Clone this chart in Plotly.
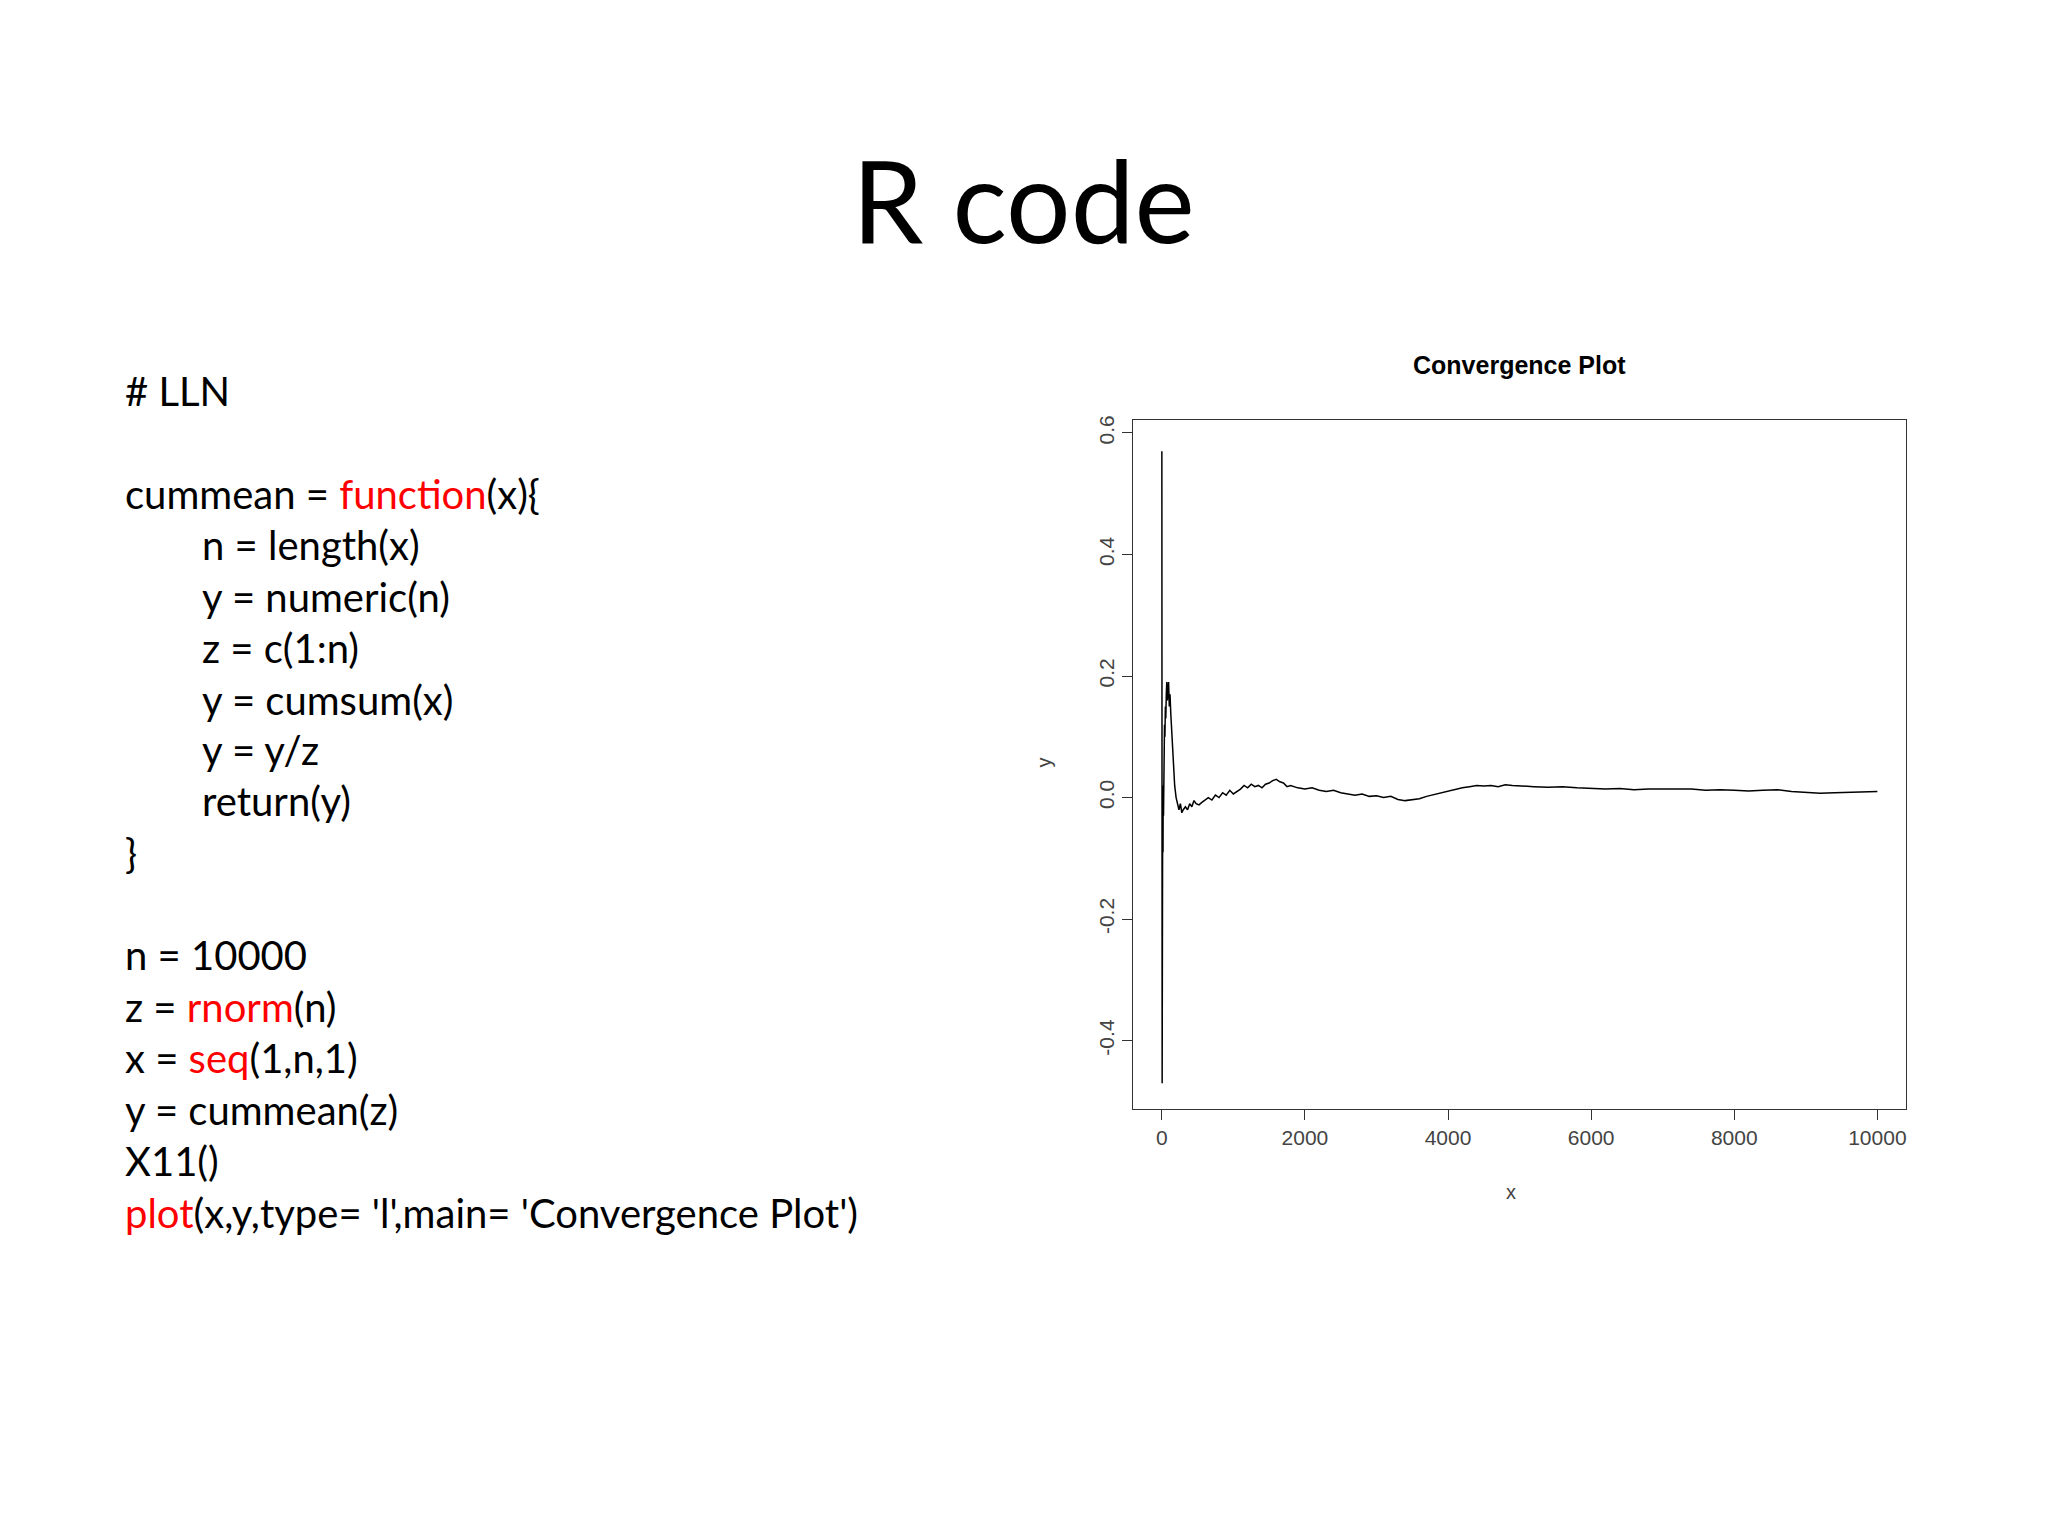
import plotly.graph_objects as go

x_vals = [1, 2, 3, 5, 7, 9, 11, 14, 17, 20, 24, 28, 33, 38, 44, 50, 56, 63, 70, 78, 86, 95, 105, 115, 125, 135, 150, 165, 180, 200, 220, 240, 260, 280, 300, 330, 360, 390, 420, 450, 480, 520, 560, 600, 650, 700, 750, 800, 850, 900, 950, 1000, 1050, 1100, 1150, 1200, 1250, 1300, 1350, 1400, 1450, 1500, 1550, 1600, 1650, 1700, 1750, 1800, 1900, 2000, 2100, 2200, 2300, 2400, 2500, 2600, 2700, 2800, 2900, 3000, 3100, 3200, 3300, 3400, 3500, 3600, 3700, 3800, 3900, 4000, 4100, 4200, 4300, 4400, 4500, 4600, 4700, 4800, 4900, 5000, 5200, 5400, 5600, 5800, 6000, 6200, 6400, 6600, 6800, 7000, 7200, 7400, 7600, 7800, 8000, 8200, 8400, 8600, 8800, 9000, 9200, 9400, 9600, 9800, 10000]
y_vals = [0.57, -0.12, 0.30, -0.47, -0.05, -0.26, -0.10, -0.04, -0.09, 0.02, -0.03, 0.05, 0.08, 0.12, 0.10, 0.15, 0.13, 0.17, 0.19, 0.16, 0.18, 0.19, 0.15, 0.17, 0.14, 0.12, 0.08, 0.04, 0.02, 0.0, -0.01, -0.02, -0.01, -0.025, -0.02, -0.015, -0.02, -0.01, -0.015, -0.005, -0.01, -0.012, -0.008, -0.005, 0.0, -0.004, 0.004, 0.0, 0.008, 0.004, 0.012, 0.006, 0.01, 0.014, 0.02, 0.016, 0.022, 0.018, 0.02, 0.016, 0.022, 0.024, 0.028, 0.03, 0.026, 0.024, 0.018, 0.02, 0.016, 0.014, 0.016, 0.012, 0.01, 0.012, 0.008, 0.006, 0.004, 0.006, 0.002, 0.003, 0.0, 0.002, -0.003, -0.005, -0.004, -0.002, 0.002, 0.005, 0.008, 0.01, 0.014, 0.016, 0.018, 0.02, 0.019, 0.02, 0.018, 0.021, 0.02, 0.019, 0.018, 0.017, 0.018, 0.016, 0.015, 0.014, 0.015, 0.013, 0.014, 0.014, 0.013, 0.014, 0.012, 0.013, 0.012, 0.011, 0.012, 0.013, 0.01, 0.008, 0.007, 0.008, 0.009, 0.01, 0.01]

x_ticks = [0, 2000, 4000, 6000, 8000, 10000]
x_tick_labels = ["0", "2000", "4000", "6000", "8000", "10000"]
y_ticks = [-0.4, -0.2, 0.0, 0.2, 0.4, 0.6]
y_tick_labels = ["-0.4", "-0.2", "0.0", "0.2", "0.4", "0.6"]

R = "#ff0000"
code_lines = [
    (0, "# LLN"),
    (0, f"cummean = <span style='color:{R}'>function</span>(x){{"),
    (1, "n = length(x)"),
    (1, "y = numeric(n)"),
    (1, "z = c(1:n)"),
    (1, "y = cumsum(x)"),
    (1, "y = y/z"),
    (1, "return(y)"),
    (0, "}"),
    (0, "n = 10000"),
    (0, f"z = <span style='color:{R}'>rnorm</span>(n)"),
    (0, f"x = <span style='color:{R}'>seq</span>(1,n,1)"),
    (0, "y = cummean(z)"),
    (0, "X11()"),
    (0, f"<span style='color:{R}'>plot</span>(x,y,type= 'l',main= 'Convergence Plot')"),
]
line_y_disp = [297, 376, 415, 455, 494, 534, 573, 612, 652, 730, 770, 809, 849, 888, 928]

W, H = 2048, 1536
s = W / 1568
ox, oy = 8, 8  # page offset compensation (real px)


def px(xd):
    return (xd * s - ox) / W


def py(yd):
    return 1 - (yd * s - oy) / H


fig = go.Figure(go.Scatter(x=x_vals, y=y_vals, mode="lines",
                           line=dict(color="black", width=1.5), showlegend=False))

ann = [dict(text="R code", x=px(784), y=py(149), xref="paper", yref="paper",
            showarrow=False, font=dict(family="Lato", size=114, color="black"),
            xanchor="center", yanchor="middle")]
for (ind, t), yd in zip(code_lines, line_y_disp):
    ann.append(dict(text=t, x=px(94 + 59 * ind), y=py(yd),
                    xref="paper", yref="paper", showarrow=False, xanchor="left",
                    yanchor="middle", font=dict(family="Lato", size=40, color="black")))
ann.append(dict(text="<b>Convergence Plot</b>", x=px(1164), y=py(277),
                xref="paper", yref="paper", showarrow=False, xanchor="center",
                yanchor="middle", font=dict(family="Liberation Sans", size=25, color="black")))
ann.append(dict(text="x", x=px(1163), y=py(922), xref="paper", yref="paper",
                showarrow=False, font=dict(family="Liberation Sans", size=20, color="#444")))
ann.append(dict(text="y", x=px(800), y=py(582), xref="paper", yref="paper",
                showarrow=False, textangle=-90, font=dict(family="Liberation Sans", size=20, color="#444")))

fig.update_layout(
    width=W, height=H, margin=dict(l=0, r=0, t=0, b=0),
    paper_bgcolor="white", plot_bgcolor="white", annotations=ann,
    xaxis=dict(domain=[px(868), px(1460)], range=[-400, 10400],
               tickvals=x_ticks, ticktext=x_tick_labels, ticks="outside", ticklen=10, tickcolor="#333",
               showgrid=False, zeroline=False, showline=True, linecolor="#333", mirror=True,
               tickfont=dict(family="Liberation Sans", size=21, color="#444")),
    yaxis=dict(domain=[py(848), py(319)], range=[-0.512, 0.622],
               tickvals=y_ticks, ticktext=y_tick_labels, tickangle=-90,
               ticks="outside", ticklen=10, tickcolor="#333",
               showgrid=False, zeroline=False, showline=True, linecolor="#333", mirror=True,
               tickfont=dict(family="Liberation Sans", size=21, color="#444")),
)
fig.write_html("out.html")
